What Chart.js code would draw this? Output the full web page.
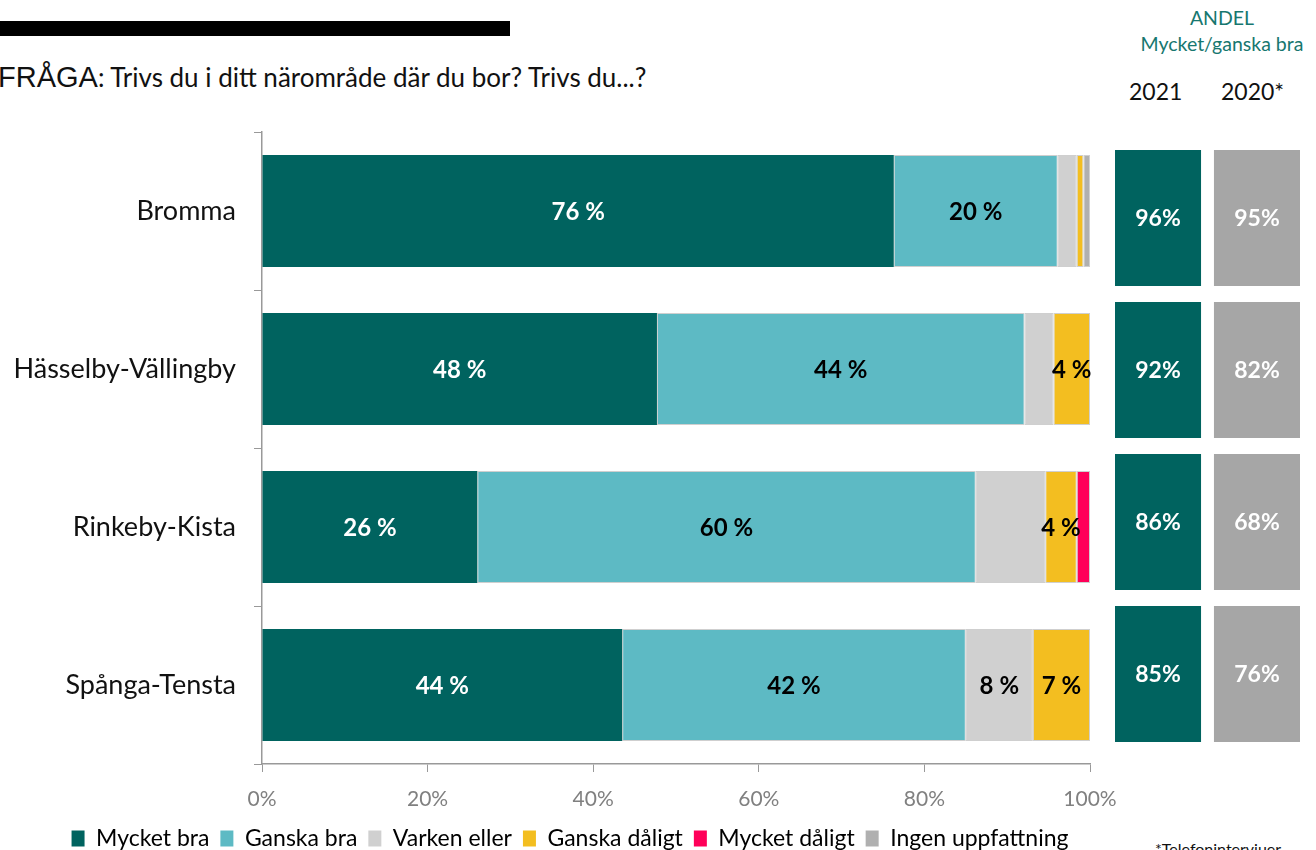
<!DOCTYPE html>
<html><head><meta charset="utf-8">
<script src="https://cdn.jsdelivr.net/npm/chart.js@4"></script>
<style>
html,body{margin:0;padding:0;background:#fff;width:1316px;height:850px;overflow:hidden;font-family:Lato,sans-serif;}
#main{position:absolute;left:0;top:0;}
#side{position:absolute;left:1115px;top:142px;}
.t{position:absolute;white-space:nowrap;}
</style></head><body>
<div class="t" style="left:0;top:21px;width:510px;height:15px;background:#000;"></div>
<div class="t" style="left:-2px;top:61px;font-size:26px;color:#111;"><span style="font-family:'Liberation Sans',Arial,sans-serif;font-size:29px;">FRÅGA</span>: Trivs du i ditt närområde där du bor? Trivs du...?</div>
<div class="t" style="left:1122px;top:5px;width:200px;text-align:center;font-size:19.5px;color:#17776F;line-height:26px;">ANDEL<br>Mycket/ganska bra</div>
<div class="t" style="left:1129px;top:77px;font-size:23px;color:#111;">2021</div>
<div class="t" style="left:1221px;top:77px;font-size:23px;color:#111;">2020*</div>
<div class="t" style="left:1155px;top:839px;font-size:16px;color:#111;">*Telefonintervjuer</div>
<canvas id="main" width="1140" height="860"></canvas>
<canvas id="side" width="185" height="608"></canvas>
<script>
const categories = ['Bromma', 'Hässelby-Vällingby', 'Rinkeby-Kista', 'Spånga-Tensta'];
const seriesNames = ['Mycket bra', 'Ganska bra', 'Varken eller', 'Ganska dåligt', 'Mycket dåligt', 'Ingen uppfattning'];
const mycketBra = [76.3, 47.7, 26.0, 43.5];
const ganskaBra = [19.8, 44.4, 60.2, 41.5];
const varkenEller = [2.3, 3.5, 8.4, 8.1];
const ganskaDaligt = [0.8, 4.4, 3.8, 6.9];
const mycketDaligt = [0, 0, 1.6, 0];
const ingenUppfattning = [0.8, 0, 0, 0];
const andel2021 = [96, 92, 86, 85];
const andel2020 = [95, 82, 68, 76];
const xTickValues = [0, 20, 40, 60, 80, 100];
const hiddenLabels = [['Rinkeby-Kista', 'Varken eller']];

const colors = ['#00635F', '#5DBAC4', '#D0D0D0', '#F3BE20', '#FF0059', '#B0B0B0'];
const textColors = ['#fff', '#000', '#000', '#000', '#000', '#000'];
const FONT = 'Lato, sans-serif';
const seriesData = [mycketBra, ganskaBra, varkenEller, ganskaDaligt, mycketDaligt, ingenUppfattning];

const barLabelPlugin = {
  id: 'barLabels',
  afterDatasetsDraw(chart) {
    const ctx = chart.ctx;
    ctx.save();
    ctx.font = 'bold 24px ' + FONT;
    ctx.textAlign = 'center';
    ctx.textBaseline = 'middle';
    chart.data.datasets.forEach((ds, di) => {
      const meta = chart.getDatasetMeta(di);
      meta.data.forEach((el, i) => {
        const v = ds.data[i];
        if (v < 3.6) return;
        if (hiddenLabels.some(h => h[0] === categories[i] && h[1] === ds.label)) return;
        const c = el.getCenterPoint();
        ctx.fillStyle = textColors[di];
        ctx.fillText(Math.round(v) + ' %', c.x, c.y + 1);
      });
    });
    ctx.restore();
  }
};

new Chart(document.getElementById('main'), {
  type: 'bar',
  data: {
    labels: categories,
    datasets: seriesData.map((d, i) => ({
      label: seriesNames[i],
      data: d,
      backgroundColor: colors[i],
      borderColor: 'rgba(160,160,160,0.5)',
      borderWidth: i === 0 ? 0 : 1,
      borderSkipped: false,
      barPercentage: 0.708,
      categoryPercentage: 1
    }))
  },
  options: {
    indexAxis: 'y',
    responsive: false,
    animation: false,
    layout: { padding: { top: 132, right: 0, left: 0, bottom: 0 } },
    plugins: {
      tooltip: { enabled: false },
      legend: {
        position: 'bottom',
        labels: {
          font: { family: FONT, size: 23 },
          color: '#111',
          boxWidth: 13,
          boxHeight: 16,
          padding: 11,
          generateLabels(chart) {
            return chart.data.datasets.map((ds, i) => ({
              text: ds.label, fillStyle: colors[i], strokeStyle: colors[i], lineWidth: 0, datasetIndex: i, hidden: false
            }));
          }
        }
      }
    },
    scales: {
      x: {
        stacked: true,
        min: 0, max: 100,
        afterBuildTicks(scale) { scale.ticks = xTickValues.map(v => ({ value: v })); },
        afterFit(scale) { scale.height = 52; },
        ticks: { callback: v => v + '%', color: '#808080', font: { family: FONT, size: 21 }, padding: 15, maxRotation: 0 },
        grid: { drawOnChartArea: false, drawTicks: true, tickLength: 8, color: '#999' },
        border: { display: true, color: '#999', width: 1.5 }
      },
      y: {
        stacked: true,
        afterFit(scale) { scale.width = 262; },
        ticks: { color: '#111', font: { family: FONT, size: 27 }, padding: 18 },
        grid: { offset: true, drawOnChartArea: false, drawTicks: true, tickLength: 8, color: '#999' },
        border: { display: true, color: '#999', width: 1.5 }
      },
      spacer: {
        type: 'linear',
        position: 'right',
        afterFit(scale) { scale.width = 50; },
        ticks: { display: false },
        grid: { display: false },
        border: { display: false }
      }
    }
  },
  plugins: [barLabelPlugin]
});

const sideLabelPlugin = {
  id: 'sideLabels',
  afterDatasetsDraw(chart) {
    const ctx = chart.ctx;
    ctx.save();
    ctx.font = 'bold 23px ' + FONT;
    ctx.textAlign = 'center';
    ctx.textBaseline = 'middle';
    ctx.fillStyle = '#fff';
    chart.data.datasets.forEach((ds, di) => {
      const meta = chart.getDatasetMeta(di);
      meta.data.forEach((el, i) => {
        const c = el.getCenterPoint();
        ctx.fillText(ds.values[i] + '%', c.x, c.y + 1);
      });
    });
    ctx.restore();
  }
};

new Chart(document.getElementById('side'), {
  type: 'bar',
  data: {
    labels: categories,
    datasets: [
      { label: '2021', values: andel2021, data: andel2021.map(() => [0, 1]), backgroundColor: '#00635F', grouped: false, barPercentage: 0.895, categoryPercentage: 1 },
      { label: '2020*', values: andel2020, data: andel2020.map(() => [1.15, 2.15]), backgroundColor: '#A6A6A6', grouped: false, barPercentage: 0.895, categoryPercentage: 1 }
    ]
  },
  options: {
    indexAxis: 'y',
    responsive: false,
    animation: false,
    layout: { padding: 0 },
    plugins: { legend: { display: false }, tooltip: { enabled: false } },
    scales: {
      x: { display: false, min: 0, max: 2.15 },
      y: { display: false }
    }
  },
  plugins: [sideLabelPlugin]
});
</script>
</body></html>
